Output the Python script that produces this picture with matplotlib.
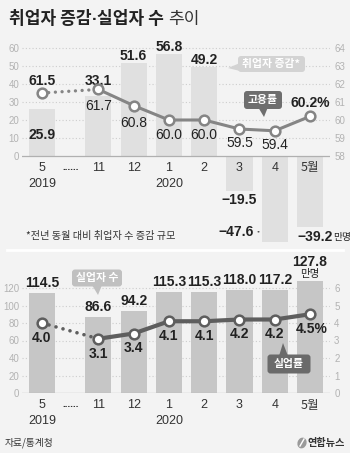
import matplotlib
matplotlib.use('Agg')
import matplotlib.pyplot as plt
import matplotlib.transforms as mtransforms
from matplotlib.patches import FancyBboxPatch, Polygon, Ellipse
import numpy as np

# ---------------- data ----------------
months = ['5', '11', '12', '1', '2', '3', '4', '5월']
years = ['2019', '', '', '2020', '', '', '', '']
emp_change = [25.9, 33.1, 51.6, 56.8, 49.2, -19.5, -47.6, -39.2]   # 만명
emp_rate = [61.5, 61.7, 60.8, 60.0, 60.0, 59.5, 59.4, 60.2]        # %
unemployed = [114.5, 86.6, 94.2, 115.3, 115.3, 118.0, 117.2, 127.8]  # 만명
unemp_rate = [4.0, 3.1, 3.4, 4.1, 4.1, 4.2, 4.2, 4.5]               # %

# ---------------- style ----------------
W, H = 350, 453
BG = '#f3f3f3'
NUM = ['Liberation Sans', 'Noto Sans CJK KR', 'DejaVu Sans']
KR = ['Noto Sans CJK KR', 'DejaVu Sans']
plt.rcParams['font.family'] = NUM
VFS = 10  # value label font size

fig = plt.figure(figsize=(W / 100, H / 100), dpi=100)
fig.patch.set_facecolor(BG)

n = len(months)
idx = np.arange(n)
x = idx + np.where(idx > 0, 0.6, 0.0)   # gap after the first (2019) column

# pixel layout helpers
X0PX, UNITPX = 42.0, (310.0 - 42.0) / 7.6
AXL, AXR = 22.0, 330.0
xlim = ((AXL - X0PX) / UNITPX, (AXR - X0PX) / UNITPX)


def add_ax(top_px, bot_px):
    return fig.add_axes([AXL / W, 1 - bot_px / H, (AXR - AXL) / W, (bot_px - top_px) / H])


def style(ax, right=False):
    for s in ax.spines.values():
        s.set_visible(False)
    ax.set_facecolor('none')
    ax.tick_params(length=0, labelsize=7, labelcolor='#b3b3b3', pad=3 if right else 2)
    ax.set_xticks([])
    for lab in ax.get_yticklabels():
        lab.set_fontfamily(NUM)


# ================= TOP PANEL =================
# left: 0 at y=156px, 1.8 px / unit
ax1 = add_ax(156 - 62 * 1.8, 156 + 52 * 1.8)
ax1.set_xlim(*xlim)
ax1.set_ylim(-52, 62)
ax1.set_yticks(range(0, 61, 10))
for v in range(10, 61, 10):
    ax1.axhline(v, ls=(0, (1, 2)), color='#cdcdcd', lw=0.8, zorder=0)
ax1.bar(x, emp_change, width=0.74, color='#e0e0e0', zorder=1)
ax1.axhline(0, color='#b0b0b0', lw=0.9, zorder=2)
style(ax1)

ax1r = ax1.twinx()
ax1r.set_ylim(58 - 5.2, 58 + 6.2)
ax1r.set_yticks(range(58, 65))
style(ax1r, right=True)

LC1 = '#858585'
ax1r.plot(x[:2], emp_rate[:2], color=LC1, lw=2.4, ls=(0, (0.01, 2.0)),
          dash_capstyle='round', zorder=3)
ax1r.plot(x[1:], emp_rate[1:], color=LC1, lw=2.2, zorder=3)
ax1r.plot(x, emp_rate, ls='none', marker='o', ms=7, mfc='white', mec=LC1, mew=1.8, zorder=4)

# bar value labels (offsets in pixels from bar end)
bar_dy = [-26, 15, 7, 7, 7, -9, None, None]
for i, v in enumerate(emp_change):
    if bar_dy[i] is None:
        continue
    ax1.annotate(f'{v:.1f}'.replace('-', '−'), (x[i], v), xytext=(0, bar_dy[i]),
                 textcoords='offset pixels', ha='center', va='center',
                 fontsize=VFS, fontweight='bold', color='#222222', zorder=5)
# -47.6 label on the left of its bar with a leader dash
i4 = 6
ax1.annotate('−47.6', (x[i4], emp_change[i4]), xytext=(-21, 10),
             textcoords='offset pixels', ha='right', va='center',
             fontsize=VFS, fontweight='bold', color='#222222')
ax1.annotate('', (x[i4] - 0.37, emp_change[i4] + 5.5), xytext=(x[i4] - 0.55, emp_change[i4] + 5.5),
             arrowprops=dict(arrowstyle='-', color='#444444', lw=1.0))
# -39.2 followed by 만명
ax1.annotate('−39.2', (x[7], emp_change[7]), xytext=(23, -10), textcoords='offset pixels',
             ha='right', va='center', fontsize=VFS, fontweight='bold', color='#222222')
ax1.annotate('만명', (x[7], emp_change[7]), xytext=(23, -10), textcoords='offset pixels',
             ha='left', va='center', fontsize=7, family=KR, color='#222222')

rate_dy = [12, -17, -17, -15, -15, -14, -14, 13]
for i, v in enumerate(emp_rate):
    last = i == n - 1
    txt = f'{v:.1f}' + ('%' if last else '')
    ax1r.annotate(txt, (x[i], v), xytext=(0, rate_dy[i]), textcoords='offset pixels',
                  ha='center', va='center', fontsize=VFS,
                  fontweight='bold' if (i == 0 or last) else 'normal', color='#222222', zorder=5)

# ================= BOTTOM PANEL =================
# left: 0 at y=393px, 0.875 px / unit
ax2 = add_ax(393 - 157 * 0.875, 393)
ax2.set_xlim(*xlim)
ax2.set_ylim(0, 157)
ax2.set_yticks(range(0, 121, 20))
for v in range(20, 121, 20):
    ax2.axhline(v, ls=(0, (1, 2)), color='#cdcdcd', lw=0.8, zorder=0)
ax2.bar(x, unemployed, width=0.74, color='#c6c6c6', zorder=1)
ax2.axhline(0, color='#b0b0b0', lw=0.9, zorder=2)
style(ax2)

ax2r = ax2.twinx()
ax2r.set_ylim(0, 157 / 20)
ax2r.set_yticks(range(0, 7))
style(ax2r, right=True)

LC2 = '#5e5e5e'
ax2r.plot(x[:2], unemp_rate[:2], color=LC2, lw=2.6, ls=(0, (0.01, 2.0)),
          dash_capstyle='round', zorder=3)
ax2r.plot(x[1:], unemp_rate[1:], color=LC2, lw=3.0, zorder=3)
ax2r.plot(x, unemp_rate, ls='none', marker='o', ms=7, mfc='white', mec=LC2, mew=1.8, zorder=4)

for i, v in enumerate(unemployed):
    dy = 19 if i == n - 1 else 10
    ax2.annotate(f'{v:.1f}', (x[i], v), xytext=(0, dy), textcoords='offset pixels',
                 ha='center', va='center', fontsize=VFS, fontweight='bold', color='#222222')
ax2.annotate('만명', (x[-1], unemployed[-1]), xytext=(0, 7), textcoords='offset pixels',
             ha='center', va='center', fontsize=7.5, family=KR, color='#222222')

for i, v in enumerate(unemp_rate):
    last = i == n - 1
    txt = f'{v:.1f}' + ('%' if last else '')
    ax2r.annotate(txt, (x[i], v), xytext=(2 if last else 0, -15), textcoords='offset pixels',
                  ha='center', va='center', fontsize=VFS, fontweight='bold',
                  color='#222222', zorder=5)

# x labels for both panels
for ax, y1, y2 in ((ax1, 168, 184), (ax2, 405, 421)):
    tr = mtransforms.blended_transform_factory(ax.transData, fig.transFigure)
    for i in range(n):
        ax.text(x[i], 1 - y1 / H, months[i], transform=tr, ha='center', va='center',
                fontsize=9, color='#333333', family=NUM if months[i] != '5월' else KR,
                zorder=6)
        if years[i]:
            ax.text(x[i], 1 - y2 / H, years[i], transform=tr, ha='center', va='center',
                    fontsize=9, color='#333333', zorder=6)
    ax.text((x[0] + x[1]) / 2, 1 - (y1 - 1) / H, '......', transform=tr, ha='center',
            va='center', fontsize=7, color='#333333', fontweight='bold')

# ================= overlay (pixel coordinates) =================
pax = fig.add_axes([0, 0, 1, 1], zorder=10)
pax.set_xlim(0, W)
pax.set_ylim(H, 0)
pax.axis('off')

# separator
pax.plot([7, 343], [250, 250], color='white', lw=2)

# title (pieces placed one after another)
r = fig.canvas.get_renderer()
ytr = mtransforms.blended_transform_factory(mtransforms.IdentityTransform(), pax.transData)
pieces = [('취업자 증감', KR, 'bold', '#222222', 0),
          ('·', ['Liberation Sans'], 'bold', '#222222', 0),
          ('실업자 수', KR, 'bold', '#222222', 0),
          ('추이', KR, 'normal', '#333333', 4)]
xpos = 9 * fig.dpi / 100
first = True
for txt, fam, wt, col, gap in pieces:
    if first:
        t = pax.text(9, 19, txt, fontsize=12.3, fontweight=wt, family=fam, color=col,
                     va='center', ha='left')
        first = False
    else:
        t = pax.text(xpos + gap, 19, txt, fontsize=12.3, fontweight=wt, family=fam,
                     color=col, va='center', ha='left', transform=ytr)
    xpos = t.get_window_extent(r).x1

# footnote
pax.text(26, 236, '*전년 동월 대비 취업자 수 증감 규모', fontsize=7.3, family=KR,
         color='#333333', va='center', ha='left')


def callout(cx, cy, w, h, text, fc, tail):
    pax.add_patch(FancyBboxPatch((cx - w / 2, cy - h / 2), w, h,
                                 boxstyle='round,pad=0,rounding_size=3', fc=fc, ec='none'))
    pax.add_patch(Polygon(tail, closed=True, fc=fc, ec='none'))
    pax.text(cx, cy, text, fontsize=7.8, fontweight='bold', family=KR, color='white',
             ha='center', va='center')


callout(271.5, 64, 67, 16, '취업자 증감*', '#d3d3d3', [(240, 63), (240, 71), (228, 68)])
callout(263, 100, 38, 18, '고용률', '#6e6e6e', [(258, 107), (268, 107), (264, 117)])
callout(97, 278, 50, 17, '실업자 수', '#c0c0c0', [(92, 285), (102, 285), (98, 295)])
callout(289, 364, 43, 19, '실업률', '#6a6a6a', [(279, 356), (288, 356), (283, 343)])

# source and logo
pax.text(5, 443, '자료/통계청', fontsize=7, family=KR, color='#333333', va='center', ha='left')
pax.add_patch(Ellipse((302, 443), 9, 11, angle=20, fc='#9a9a9a', ec='none'))
pax.plot([300, 304], [446, 439], color='white', lw=1)
pax.text(308, 443, '연합뉴스', fontsize=7.3, fontweight='bold', family=KR, color='#333333',
         va='center', ha='left')

fig.savefig('out.png', dpi=100, facecolor=BG)
